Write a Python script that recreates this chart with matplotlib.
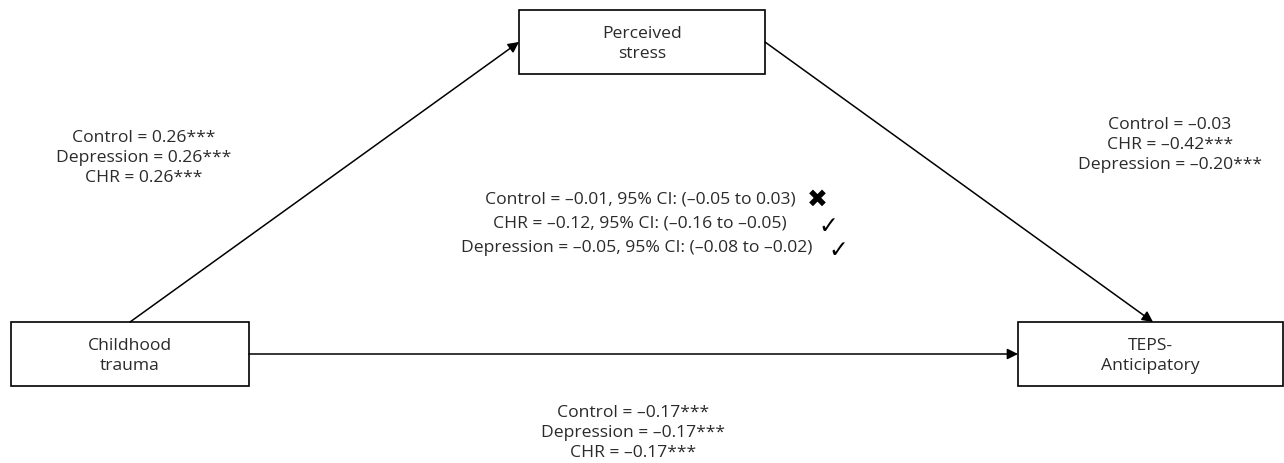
import matplotlib.pyplot as plt
from matplotlib.patches import Rectangle

# model values
groups_a = ["Control", "Depression", "CHR"]
coef_a = ["0.26***", "0.26***", "0.26***"]

groups_b = ["Control", "CHR", "Depression"]
coef_b = ["–0.03", "–0.42***", "–0.20***"]

groups_ind = ["Control", "CHR", "Depression"]
coef_ind = ["–0.01", "–0.12", "–0.05"]
ci_low = ["–0.05", "–0.16", "–0.08"]
ci_high = ["0.03", "–0.05", "–0.02"]
significant = [False, True, True]

groups_c = ["Control", "Depression", "CHR"]
coef_c = ["–0.17***", "–0.17***", "–0.17***"]

plt.rcParams['font.family'] = ['Open Sans', 'DejaVu Sans']
FS = 12.6

fig = plt.figure(figsize=(12.84, 4.64), dpi=100)
ax = fig.add_axes([0, 0, 1, 1])
ax.set_xlim(0, 1284)
ax.set_ylim(464, 0)
ax.axis('off')

# boxes: (x, y, w, h, label)
boxes = {
    "stress": (519, 11, 246, 64, "Perceived\nstress"),
    "trauma": (11, 323, 238, 64, "Childhood\ntrauma"),
    "teps": (1018, 323, 265, 64, "TEPS-\nAnticipatory"),
}
for key, (x, y, w, h, lab) in boxes.items():
    ax.add_patch(Rectangle((x, y), w, h, fill=False, ec='black', lw=1.2))
    ax.text(x + w / 2, y + h / 2 + 1, lab, ha='center', va='center',
            fontsize=FS, color='#2a2a2a', linespacing=1.3)

def arrow(p0, p1):
    ax.annotate("", xy=p1, xytext=p0,
                arrowprops=dict(arrowstyle='-|>', color='black', lw=1.1,
                                mutation_scale=16, shrinkA=0, shrinkB=0))

arrow((130, 323), (519, 43))
arrow((765, 43), (1153, 323))
arrow((249, 355), (1018, 355))

txt = dict(ha='center', va='center', fontsize=FS, color='#2a2a2a', linespacing=1.3)

ax.text(144, 158, "\n".join(f"{g} = {c}" for g, c in zip(groups_a, coef_a)), **txt)
ax.text(1170, 145, "\n".join(f"{g} = {c}" for g, c in zip(groups_b, coef_b)), **txt)
ax.text(633, 433, "\n".join(f"{g} = {c}" for g, c in zip(groups_c, coef_c)), **txt)

ind_y = [200, 224, 248]
ind_cx = [640, 640, 637]
mark_x = [817, 828, 838]
for i in range(len(groups_ind)):
    s = f"{groups_ind[i]} = {coef_ind[i]}, 95% CI: ({ci_low[i]} to {ci_high[i]})"
    ax.text(ind_cx[i], ind_y[i], s, **txt)
    if significant[i]:
        ax.text(mark_x[i], ind_y[i] + 2, "✓", ha='center', va='center',
                fontsize=17, family=['DejaVu Sans'])
    else:
        ax.text(mark_x[i], ind_y[i], "✖", ha='center', va='center',
                fontsize=18, family=['DejaVu Sans'])

fig.savefig('out.png', dpi=100)
